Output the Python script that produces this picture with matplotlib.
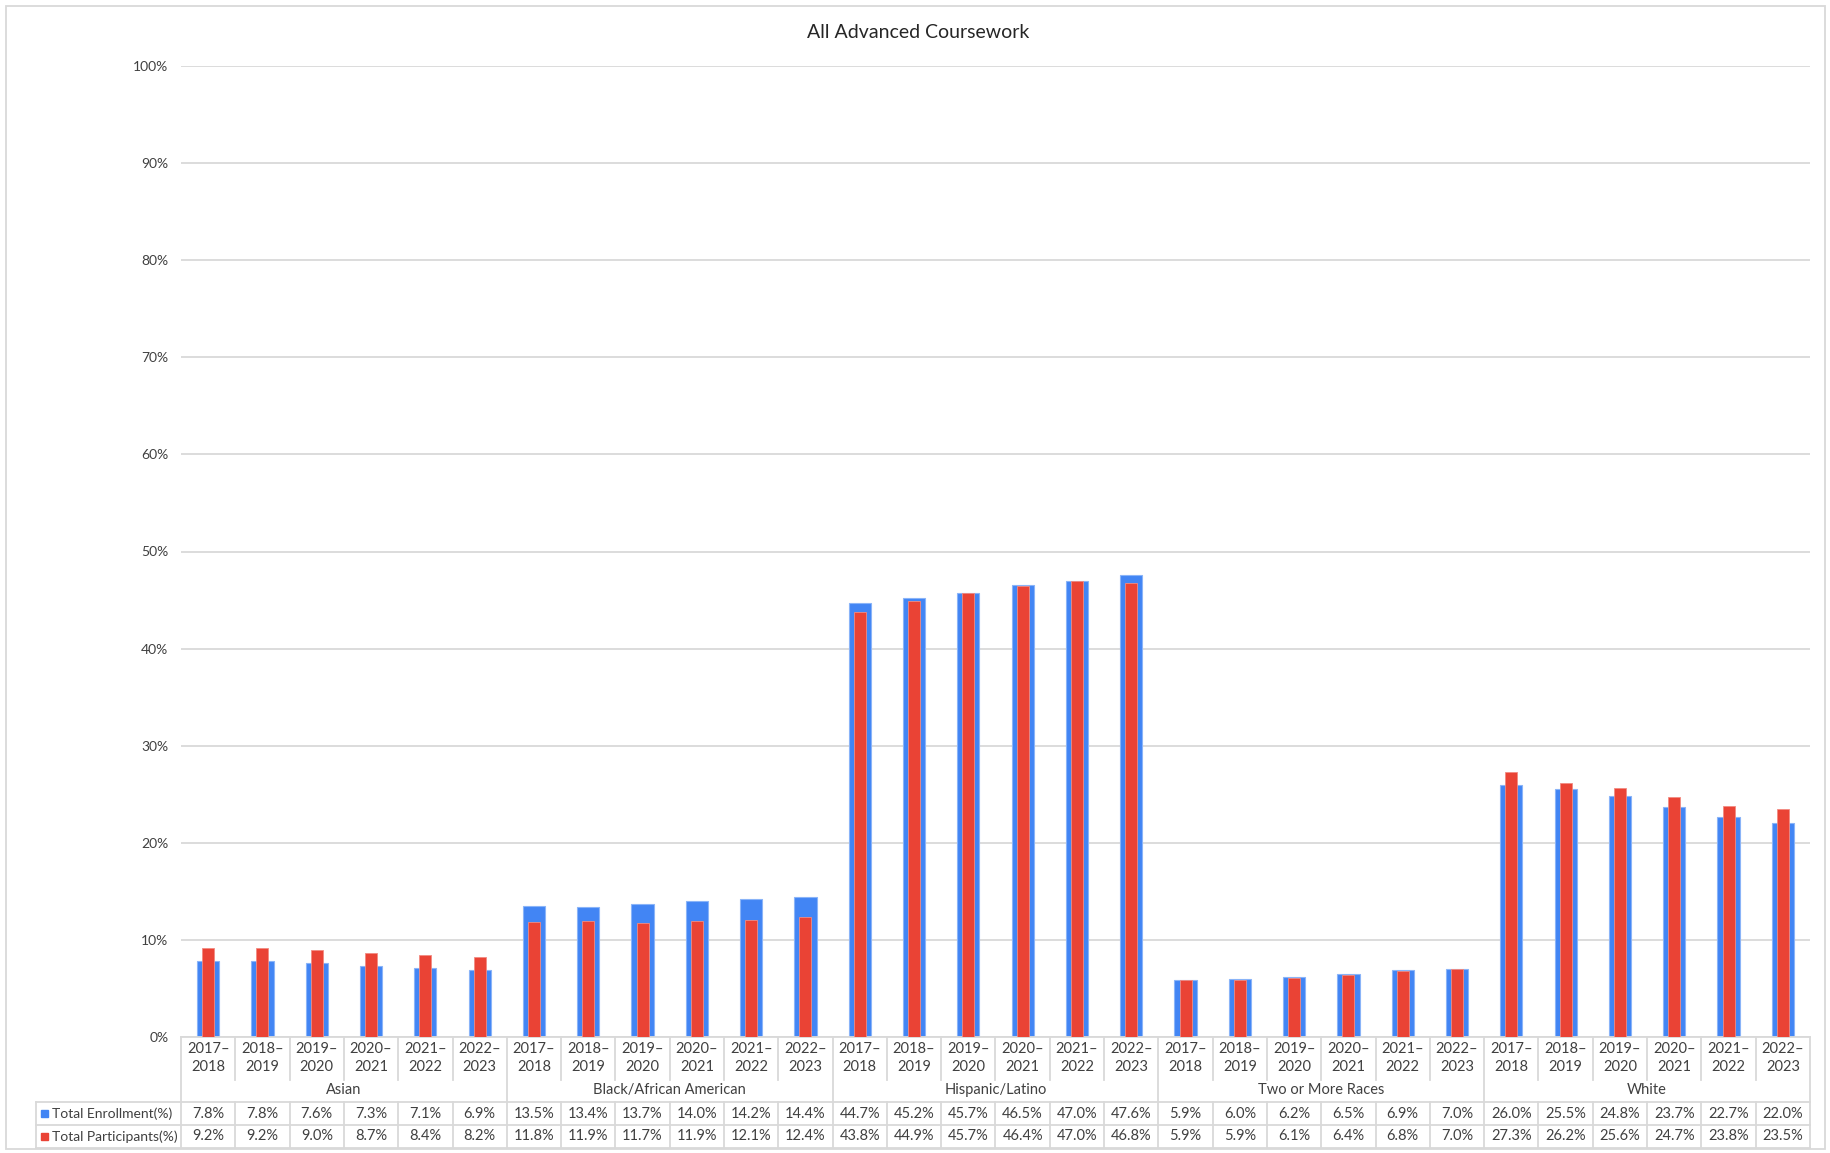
import matplotlib
matplotlib.use("Agg")
import matplotlib.pyplot as plt
from matplotlib.transforms import blended_transform_factory
from matplotlib.patches import Rectangle

plt.rcParams['font.family'] = ['Lato', 'DejaVu Sans']

groups = ["Asian", "Black/African American", "Hispanic/Latino", "Two or More Races", "White"]
years = ["2017\u20132018", "2018\u20132019", "2019\u20132020", "2020\u20132021", "2021\u20132022", "2022\u20132023"]
enrollment = [7.8, 7.8, 7.6, 7.3, 7.1, 6.9,
              13.5, 13.4, 13.7, 14.0, 14.2, 14.4,
              44.7, 45.2, 45.7, 46.5, 47.0, 47.6,
              5.9, 6.0, 6.2, 6.5, 6.9, 7.0,
              26.0, 25.5, 24.8, 23.7, 22.7, 22.0]
participants = [9.2, 9.2, 9.0, 8.7, 8.4, 8.2,
                11.8, 11.9, 11.7, 11.9, 12.1, 12.4,
                43.8, 44.9, 45.7, 46.4, 47.0, 46.8,
                5.9, 5.9, 6.1, 6.4, 6.8, 7.0,
                27.3, 26.2, 25.6, 24.7, 23.8, 23.5]
series_names = ["Total Enrollment(%)", "Total Participants(%)"]
yticks = [0, 10, 20, 30, 40, 50, 60, 70, 80, 90, 100]

BLUE = "#4285F4"
RED = "#EA4335"
GRID = "#d9d9d9"
TXT = "#404040"

W, H = 1831, 1153
fig = plt.figure(figsize=(W / 100, H / 100), dpi=100)

# pixel overlay axes
tx = fig.add_axes([0, 0, 1, 1])
tx.set_xlim(0, W)
tx.set_ylim(H, 0)
tx.axis("off")

L, R, T, B = 181, 1810, 66, 1037
ax = fig.add_axes([L / W, (H - B) / H, (R - L) / W, (B - T) / H])
n = len(enrollment)
xs = list(range(n))
ax.bar(xs, enrollment, width=0.41, color=BLUE, edgecolor="#8ab4f8", linewidth=0.8, zorder=2)
ax.bar(xs, participants, width=0.22, color=RED, edgecolor="#f28b82", linewidth=0.6, zorder=3)
ax.set_xlim(-0.5, n - 0.5)
ax.set_ylim(0, 100)
ax.set_yticks(yticks)
ax.set_yticklabels([f"{v}%" for v in yticks], fontsize=10, color=TXT)
ax.tick_params(axis="y", length=0, pad=9)
ax.tick_params(axis="x", length=0, labelbottom=False)
ax.grid(axis="y", color=GRID, linewidth=1.3, zorder=0)
for s in ["top", "right", "left"]:
    ax.spines[s].set_visible(False)
ax.spines["bottom"].set_color(GRID)
ax.spines["bottom"].set_linewidth(1.3)
ax.set_facecolor("none")

# title
tx.text(918, 33, "All Advanced Coursework", ha="center", va="center", fontsize=14, color="#262626")

# outer border
tx.add_patch(Rectangle((6, 6), W - 12, H - 10, fill=False, edgecolor=GRID, linewidth=1.3))

# data table
bt = blended_transform_factory(ax.transData, tx.transData)
y_top, y_year_end, y_grp_end, y_r1_end, y_r2_end = 1037, 1080, 1102, 1125, 1148
lc = GRID
lw = 1.3
ng = len(groups)
ny = len(years)
for i in range(n):
    yr = years[i % ny].split("\u2013")
    tx.text(i, 1049, yr[0] + "\u2013", transform=bt, ha="center", va="center", fontsize=10.5, color=TXT)
    tx.text(i, 1067, yr[1], transform=bt, ha="center", va="center", fontsize=10.5, color=TXT)
    tx.text(i, 1113.5, f"{enrollment[i]:.1f}%", transform=bt, ha="center", va="center", fontsize=10.5, color=TXT)
    tx.text(i, 1136.5, f"{participants[i]:.1f}%", transform=bt, ha="center", va="center", fontsize=10.5, color=TXT)
for g in range(ng):
    tx.text(g * ny + (ny - 1) / 2, 1090, groups[g], transform=bt, ha="center", va="center", fontsize=10.5, color=TXT)

# vertical lines
for k in range(n + 1):
    xb = k - 0.5
    if k % ny == 0:
        tx.plot([xb, xb], [y_top, y_r2_end], transform=bt, color=lc, lw=lw)
    else:
        tx.plot([xb, xb], [y_top, y_year_end], transform=bt, color=lc, lw=lw)
        tx.plot([xb, xb], [y_grp_end, y_r2_end], transform=bt, color=lc, lw=lw)
# left edge of row label column
tx.plot([36, 36], [y_grp_end, y_r2_end], color=lc, lw=lw)
for yy in [y_grp_end, y_r1_end, y_r2_end]:
    tx.plot([36, R], [yy, yy], color=lc, lw=lw)

# row labels with legend keys
for yy, name, col in [(1113.5, series_names[0], BLUE), (1136.5, series_names[1], RED)]:
    tx.add_patch(Rectangle((41, yy - 3.5), 7, 7, color=col))
    tx.text(52, yy, name, ha="left", va="center", fontsize=10, color=TXT)

fig.savefig("out.png", dpi=100)
